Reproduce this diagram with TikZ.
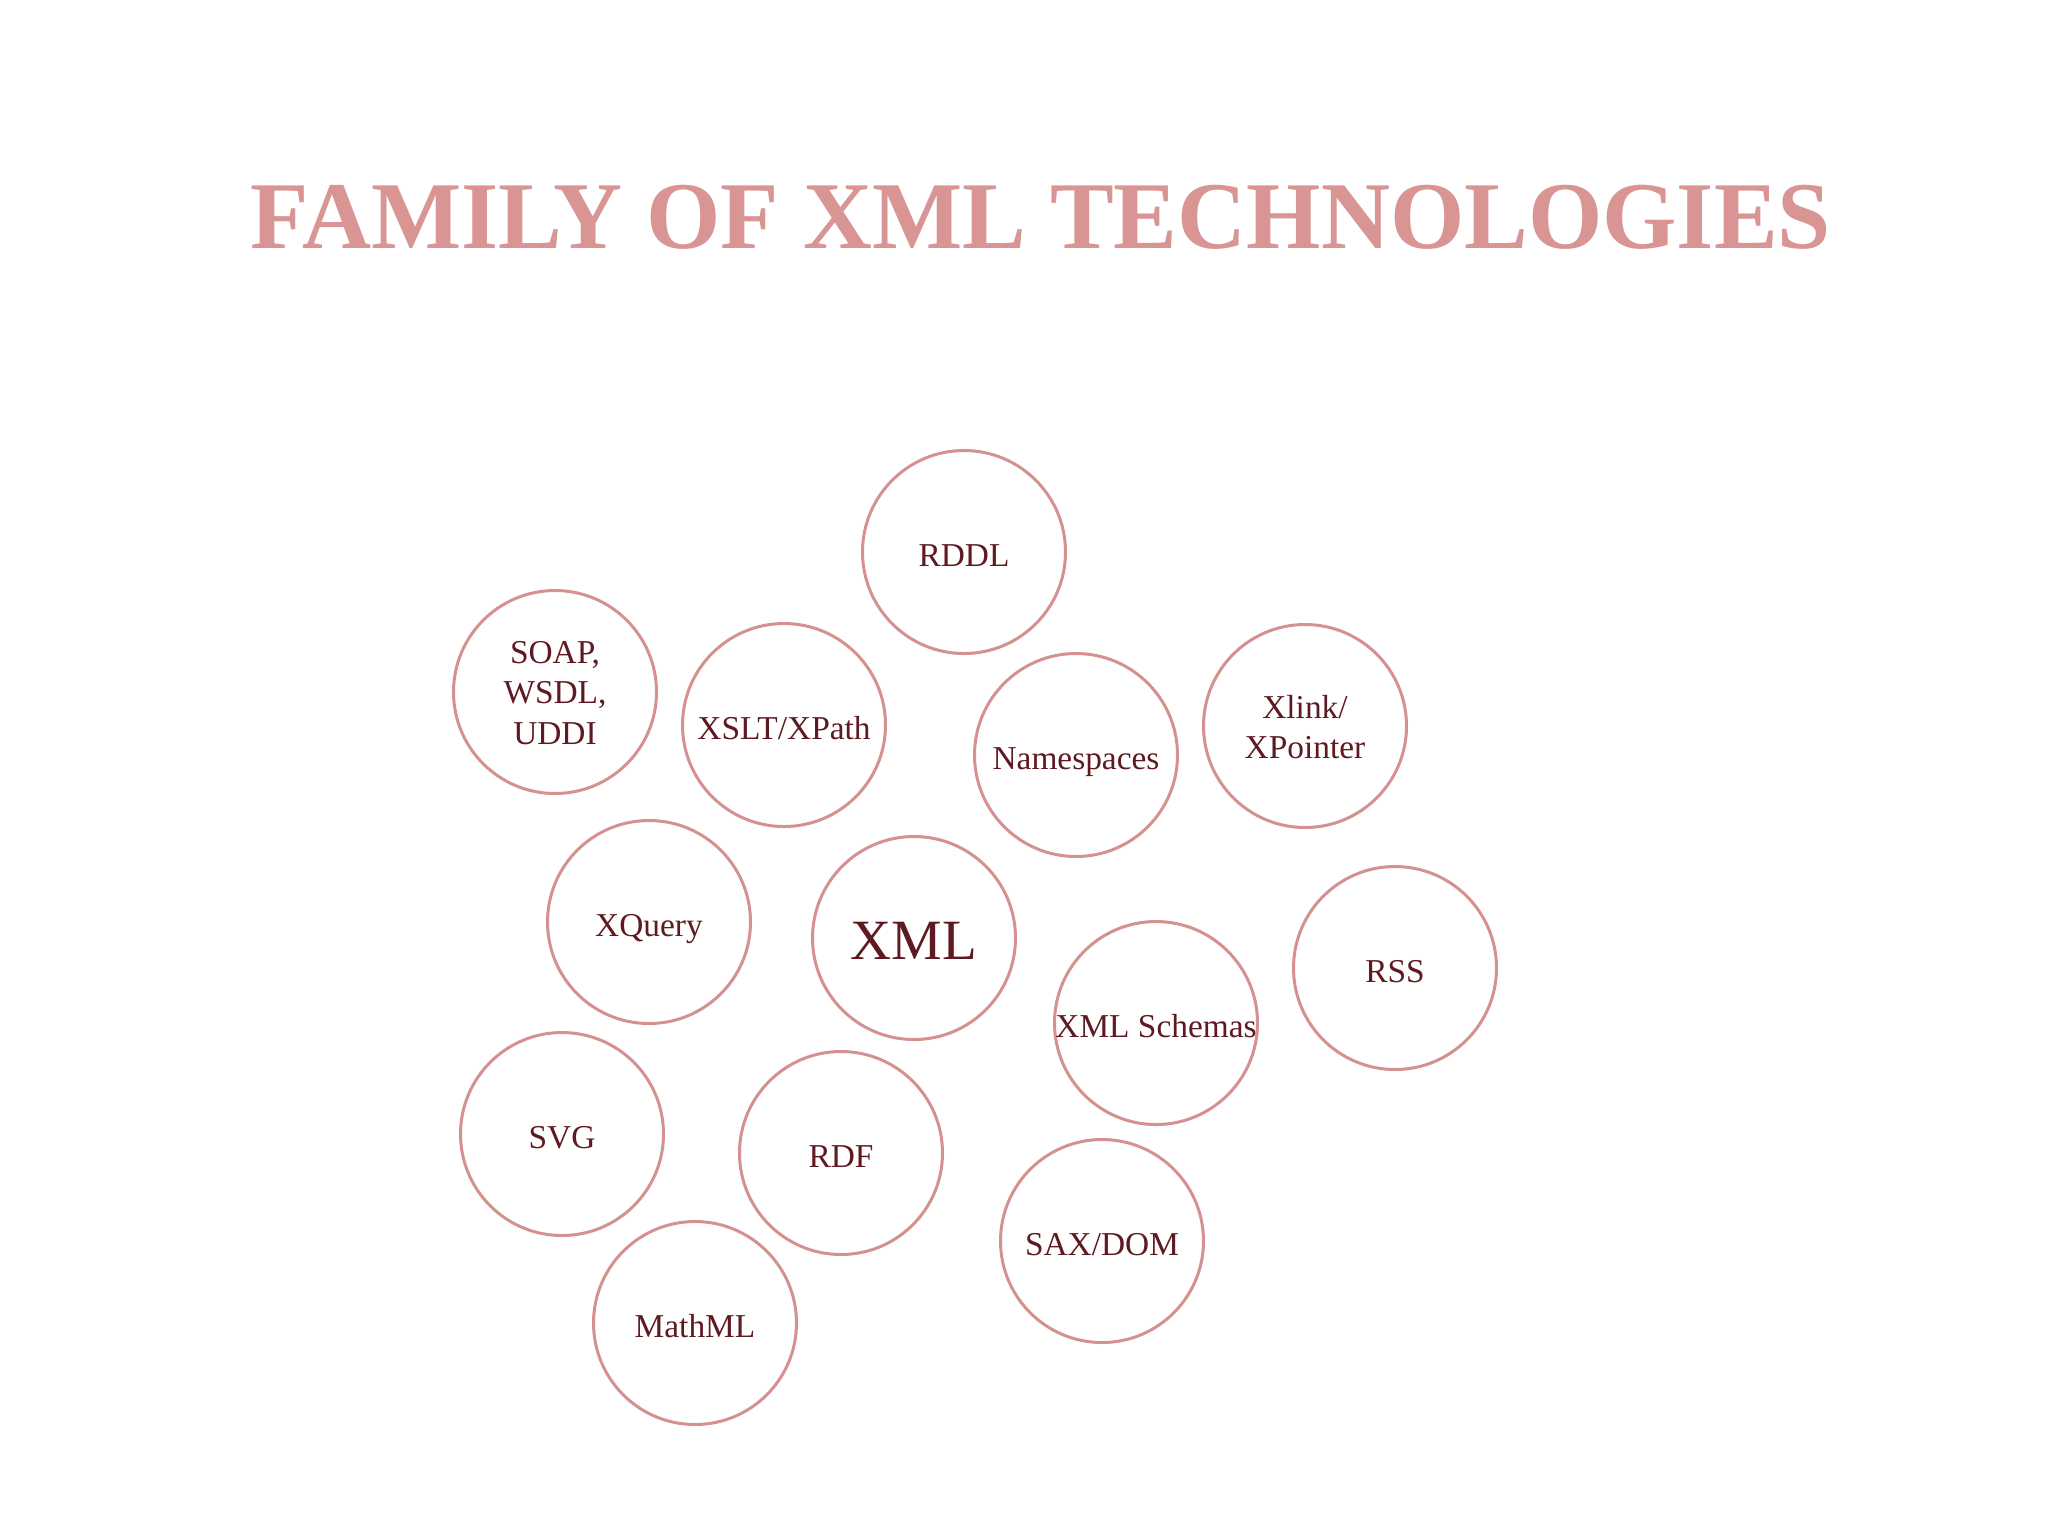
\documentclass[tikz,border=0pt]{standalone}
\usepackage{fontspec}
\setmainfont{Liberation Serif}
\definecolor{titlecol}{HTML}{D99594}
\definecolor{ringcol}{HTML}{D4918F}
\definecolor{textcol}{HTML}{5E1A20}
\tikzset{
  ring/.style={circle, draw=ringcol, line width=0.85pt, minimum size=20.3mm, inner sep=0pt},
  lbl/.style={inner sep=0pt, text=textcol, font=\fontsize{9.5pt}{11.6pt}\selectfont, align=center, anchor=base},
  mlbl/.style={lbl, anchor=center},
  biglbl/.style={lbl, font=\fontsize{16.2pt}{19pt}\selectfont},
  titlestyle/.style={text=titlecol, font=\fontsize{27.2pt}{32pt}\selectfont\bfseries, anchor=base, inner sep=0pt}
}
\begin{document}
\begin{tikzpicture}[x=0.1mm,y=-0.1mm]
\useasboundingbox (0,0) rectangle (2048,1536);
\fill[white] (0,0) rectangle (2048,1536);
\node[titlestyle] (title) at (1041,248) {FAMILY OF XML TECHNOLOGIES};
\node[ring] (rddl) at (964,552) {};
\node[ring] (soap) at (555,692) {};
\node[ring] (xslt) at (784,725) {};
\node[ring] (ns) at (1076,755) {};
\node[ring] (xlink) at (1305,726) {};
\node[ring] (xquery) at (649,922) {};
\node[ring] (xml) at (914,938) {};
\node[ring] (schemas) at (1156,1023) {};
\node[ring] (rss) at (1395,968) {};
\node[ring] (svg) at (562,1134) {};
\node[ring] (rdf) at (841,1153) {};
\node[ring] (sax) at (1102,1241) {};
\node[ring] (mathml) at (695,1323) {};
\node[lbl] (rddl-t) at ([yshift=-1.4mm]rddl.center) {RDDL};
\node[mlbl] (soap-t) at ([yshift=-0.1mm]soap.center) {SOAP,\\WSDL,\\UDDI};
\node[lbl] (xslt-t) at ([yshift=-1.4mm]xslt.center) {XSLT/XPath};
\node[lbl] (ns-t) at ([yshift=-1.4mm]ns.center) {Namespaces};
\node[mlbl] (xlink-t) at ([yshift=-0.1mm]xlink.center) {Xlink/\\XPointer};
\node[lbl] (xquery-t) at ([yshift=-1.4mm]xquery.center) {XQuery};
\node[biglbl] (xml-t) at ([yshift=-2.1mm]xml.center) {XML};
\node[lbl] (schemas-t) at ([yshift=-1.4mm]schemas.center) {XML Schemas};
\node[lbl] (rss-t) at ([yshift=-1.4mm]rss.center) {RSS};
\node[lbl] (svg-t) at ([yshift=-1.4mm]svg.center) {SVG};
\node[lbl] (rdf-t) at ([yshift=-1.4mm]rdf.center) {RDF};
\node[lbl] (sax-t) at ([yshift=-1.4mm]sax.center) {SAX/DOM};
\node[lbl] (mathml-t) at ([yshift=-1.4mm]mathml.center) {MathML};
\end{tikzpicture}
\end{document}
